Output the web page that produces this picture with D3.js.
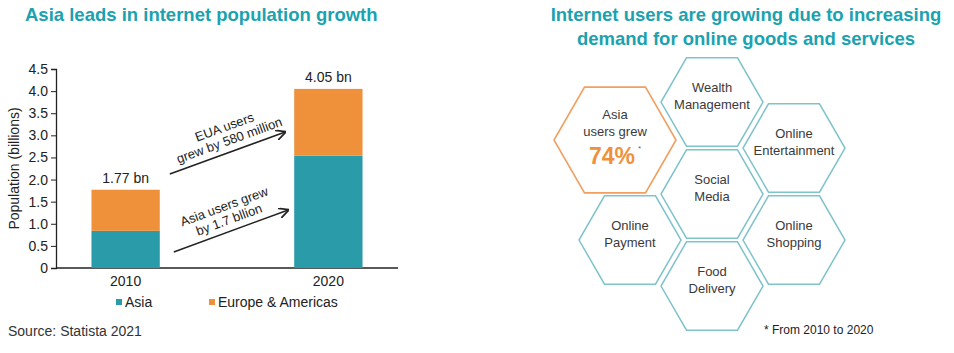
<!DOCTYPE html>
<html>
<head>
<meta charset="utf-8">
<script src="https://cdn.jsdelivr.net/npm/d3@7"></script>
<style>
  body { margin: 0; background: #fff; }
  svg { font-family: "Liberation Sans", Arial, sans-serif; display: block; }
  .title { fill: #1ba2b0; font-weight: bold; font-size: 18.5px; }
  .tick text { font-size: 14px; fill: #222; }
</style>
</head>
<body>
<svg width="954" height="353"></svg>
<script>
// data
const years = ['2010', '2020'];
const asiaUsers = [0.84, 2.54];
const euaUsers = [0.93, 1.51];
const totalLabels = ['1.77 bn', '4.05 bn'];
const yTicks = [0, 0.5, 1, 1.5, 2, 2.5, 3, 3.5, 4, 4.5];
const seriesNames = ['Asia', 'Europe & Americas'];
const hexLabels = [
    ['Wealth', 'Management'],
    ['Online', 'Entertainment'],
    ['Social', 'Media'],
    ['Online', 'Shopping'],
    ['Food', 'Delivery'],
    ['Online', 'Payment']
];
const highlightLines = ['Asia', 'users grew'];
const highlightValue = '74%';

const teal = '#2a9ba9';
const orange = '#ef913b';

const svg = d3.select('svg');

// ---- left: stacked bars ----
const xScale = d3.scaleBand()
    .domain(years)
    .range([56, 398])
    .paddingInner(0.663)
    .paddingOuter(0.175);

const yScale = d3.scaleLinear()
    .domain([0, 4.5])
    .range([268, 69]);

svg.append('text')
    .attr('class', 'title')
    .attr('x', 25)
    .attr('y', 21)
    .text('Asia leads in internet population growth');

const yAxis = d3.axisLeft(yScale)
    .tickValues(yTicks)
    .tickFormat(d => d === 0 ? '0' : d3.format('.1f')(d))
    .tickSize(5)
    .tickPadding(3);

const yAxisG = svg.append('g')
    .attr('transform', 'translate(56,0)')
    .call(yAxis);
yAxisG.select('.domain').attr('stroke', '#222').attr('stroke-width', 1.3);
yAxisG.selectAll('.tick line').attr('stroke', '#222');

// x baseline
svg.append('line')
    .attr('x1', 56).attr('x2', 398)
    .attr('y1', yScale(0)).attr('y2', yScale(0))
    .attr('stroke', '#222').attr('stroke-width', 1.3);

svg.selectAll('.year-label').data(years)
    .enter().append('text')
        .attr('class', 'year-label')
        .attr('x', d => xScale(d) + xScale.bandwidth() / 2)
        .attr('y', 286)
        .attr('text-anchor', 'middle')
        .attr('font-size', 14)
        .attr('fill', '#222')
        .text(d => d);

svg.append('text')
    .attr('transform', `translate(19,${(yScale(0) + yScale(4.5)) / 2}) rotate(-90)`)
    .attr('text-anchor', 'middle')
    .attr('font-size', 14)
    .attr('fill', '#222')
    .text('Population (billions)');

// asia segment
svg.selectAll('.bar-asia').data(years)
    .enter().append('rect')
        .attr('class', 'bar-asia')
        .attr('x', d => xScale(d))
        .attr('y', (d, i) => yScale(asiaUsers[i]))
        .attr('width', xScale.bandwidth())
        .attr('height', (d, i) => yScale(0) - yScale(asiaUsers[i]))
        .attr('fill', teal);

// europe & americas segment
svg.selectAll('.bar-eua').data(years)
    .enter().append('rect')
        .attr('class', 'bar-eua')
        .attr('x', d => xScale(d))
        .attr('y', (d, i) => yScale(asiaUsers[i] + euaUsers[i]))
        .attr('width', xScale.bandwidth())
        .attr('height', (d, i) => yScale(asiaUsers[i]) - yScale(asiaUsers[i] + euaUsers[i]))
        .attr('fill', orange);

svg.selectAll('.total-label').data(years)
    .enter().append('text')
        .attr('class', 'total-label')
        .attr('x', d => xScale(d) + xScale.bandwidth() / 2)
        .attr('y', (d, i) => yScale(asiaUsers[i] + euaUsers[i]) - 7)
        .attr('text-anchor', 'middle')
        .attr('font-size', 14)
        .attr('fill', '#222')
        .text((d, i) => totalLabels[i]);

// growth arrows
svg.append('defs').append('marker')
    .attr('id', 'arrow')
    .attr('viewBox', '0 0 10 10')
    .attr('refX', 9).attr('refY', 5)
    .attr('markerWidth', 7).attr('markerHeight', 7)
    .attr('orient', 'auto')
  .append('path')
    .attr('d', 'M0,0 L10,5 L0,10')
    .attr('fill', 'none')
    .attr('stroke', '#222')
    .attr('stroke-width', 1.6);

const x0 = xScale('2010') + xScale.bandwidth();
const x1 = xScale('2020');
const arrows = [
    {from: [x0 + 10, 174], to: [x1 - 9, 132], lines: ['EUA users', 'grew by 580 million'], shift: 6},
    {from: [x0 + 14, 252], to: [x1 - 6, 210], lines: ['Asia users grew', 'by 1.7 bllion'], shift: 2}
];
arrows.forEach(a => {
    svg.append('line')
        .attr('x1', a.from[0]).attr('y1', a.from[1])
        .attr('x2', a.to[0]).attr('y2', a.to[1])
        .attr('stroke', '#222').attr('stroke-width', 1.5)
        .attr('marker-end', 'url(#arrow)');
    const ang = Math.atan2(a.to[1] - a.from[1], a.to[0] - a.from[0]) * 180 / Math.PI;
    const cx = (a.from[0] + a.to[0]) / 2;
    const cy = (a.from[1] + a.to[1]) / 2;
    const t = svg.append('text')
        .attr('transform', `translate(${cx},${cy}) rotate(${ang})`)
        .attr('text-anchor', 'middle')
        .attr('font-size', 13)
        .attr('fill', '#222');
    t.append('tspan').attr('x', a.shift).attr('y', -21).text(a.lines[0]);
    t.append('tspan').attr('x', a.shift).attr('y', -7).text(a.lines[1]);
});

// legend
const legendX = [116, 209];
seriesNames.forEach((name, i) => {
    svg.append('rect')
        .attr('x', legendX[i]).attr('y', 299)
        .attr('width', 6).attr('height', 6)
        .attr('fill', i === 0 ? teal : orange);
    svg.append('text')
        .attr('x', legendX[i] + 9).attr('y', 307)
        .attr('font-size', 14)
        .attr('fill', '#222')
        .text(name);
});

svg.append('text')
    .attr('x', 8).attr('y', 336)
    .attr('font-size', 14)
    .attr('fill', '#333')
    .text('Source: Statista 2021');

// ---- right: hexagons ----
const rightTitle = svg.append('text')
    .attr('class', 'title')
    .attr('text-anchor', 'middle');
rightTitle.append('tspan').attr('x', 746).attr('y', 21)
    .text('Internet users are growing due to increasing');
rightTitle.append('tspan').attr('x', 746).attr('y', 45)
    .text('demand for online goods and services');

const hexPath = r => {
    const pts = d3.range(6).map(k => {
        const a = Math.PI / 3 * k;
        return [r * Math.cos(a), r * Math.sin(a)];
    });
    return 'M' + pts.map(p => p.join(',')).join('L') + 'Z';
};

// hex grid: column step and row step
const hexX = d3.scaleLinear().domain([0, 2]).range([630, 794]);
const hexY = d3.scaleLinear().domain([0, 1]).range([102, 148]);
const hexCells = [[1, 0], [2, 1], [1, 2], [2, 3], [1, 4], [0, 3]];

hexCells.forEach((c, i) => {
    const g = svg.append('g')
        .attr('transform', `translate(${hexX(c[0])},${hexY(c[1])})`);
    g.append('path')
        .attr('d', hexPath(51))
        .attr('fill', 'none')
        .attr('stroke', '#7fc3cb')
        .attr('stroke-width', 1.5);
    const t = g.append('text')
        .attr('text-anchor', 'middle')
        .attr('font-size', 13)
        .attr('fill', '#3a3a3a');
    t.append('tspan').attr('x', 0).attr('y', -10).text(hexLabels[i][0]);
    t.append('tspan').attr('x', 0).attr('y', 7).text(hexLabels[i][1]);
});

const hg = svg.append('g').attr('transform', 'translate(615,140)');
hg.append('path')
    .attr('d', hexPath(61))
    .attr('fill', 'none')
    .attr('stroke', '#f0a060')
    .attr('stroke-width', 1.6);
const ht = hg.append('text')
    .attr('text-anchor', 'middle')
    .attr('font-size', 13)
    .attr('fill', '#3a3a3a');
ht.append('tspan').attr('x', 0).attr('y', -21).text(highlightLines[0]);
ht.append('tspan').attr('x', 0).attr('y', -4).text(highlightLines[1]);
hg.append('text')
    .attr('x', -3).attr('y', 24)
    .attr('text-anchor', 'middle')
    .attr('font-size', 23)
    .attr('font-weight', 'bold')
    .attr('fill', orange)
    .text(highlightValue);
hg.append('text')
    .attr('x', 23).attr('y', 11)
    .attr('font-size', 8)
    .attr('fill', '#666')
    .text('*');

svg.append('text')
    .attr('x', 764).attr('y', 334)
    .attr('font-size', 12)
    .attr('fill', '#222')
    .text('* From 2010 to 2020');
</script>
</body>
</html>
